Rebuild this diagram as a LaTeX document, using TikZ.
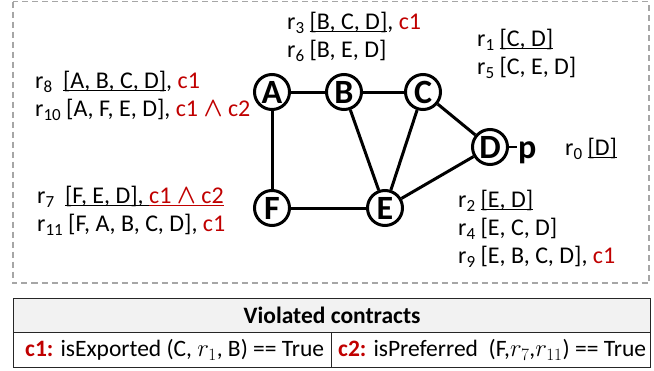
\documentclass[tikz,border=0pt]{standalone}
\usepackage{fontspec}
\setmainfont{Carlito}
\definecolor{cred}{HTML}{C00000}
\definecolor{hdrgray}{HTML}{F2F2F2}
\definecolor{dashgray}{HTML}{A6A6A6}
\newcommand{\andsym}{\scalebox{1}[1.1]{$\boldsymbol{\wedge}$}}
\usepackage{amsmath}
\newsavebox{\ulbox}
\newcommand{\ulx}[1]{\sbox{\ulbox}{#1}\rlap{\rule[-3.4pt]{\wd\ulbox}{1.4pt}}\usebox{\ulbox}}
\newcommand{\rr}[1]{r\raisebox{-4.5pt}{\fontsize{17}{17}\selectfont #1}}
\begin{document}
\begin{tikzpicture}[x=1pt,y=-1pt,
  vert/.style={circle, draw, line width=3pt, minimum size=35pt, inner sep=0pt,
    font=\fontsize{34}{34}\selectfont\bfseries},
  edge/.style={line width=3pt},
  lbl/.style={anchor=base west, inner sep=0pt, font=\fontsize{24}{28}\selectfont},
  cell/.style={draw=black!85, line width=1.2pt, anchor=north west, inner sep=0pt},
  celltxt/.style={inner sep=0pt, font=\fontsize{23.5}{28}\selectfont}
]
\useasboundingbox (0,0) rectangle (654,370);
% dashed frame
\draw[dashgray, line width=1.5pt, dash pattern=on 6pt off 4pt] (13,1.5) rectangle (649,283);

% vertices
\node[vert] (A) at (272,92) {A};
\node[vert] (B) at (344,92) {B};
\node[vert] (C) at (423,92) {C};
\node[vert] (D) at (490,147) {D};
\node[vert] (E) at (385,208) {E};
\node[vert] (F) at (272,208) {F};
\node[anchor=base west, inner sep=1pt, font=\fontsize{34}{34}\selectfont\bfseries] (p) at (517,158) {p};

% edges
\draw[edge] (A) -- (B);
\draw[edge] (B) -- (C);
\draw[edge] (A) -- (F);
\draw[edge] (F) -- (E);
\draw[edge] (B) -- (E);
\draw[edge] (C) -- (E);
\draw[edge] (C) -- (D);
\draw[edge] (E) -- (D);
\draw[line width=2.2pt] (D.east) -- (p.west |- D.east);

% route labels
\node[lbl] (r3) at (287,29) {\rr{3} \ulx{[B, C, D]}, \textcolor{cred}{c1}};
\node[lbl] (r6) at (287,57) {\rr{6} [B, E, D]};
\node[lbl] (r1) at (477,46) {\rr{1} \ulx{[C, D]}};
\node[lbl] (r5) at (477,74) {\rr{5} [C, E, D]};
\node[lbl] (r8) at (35,88) {\rr{8}\ \ \ulx{[A, B, C, D]}, \textcolor{cred}{c1}};
\node[lbl] (r10) at (35,116) {\rr{10} [A, F, E, D], \textcolor{cred}{c1 \andsym{} c2}};
\node[lbl] (r7) at (37,203) {\rr{7}\ \ \ulx{[F, E, D],\ }\textcolor{cred}{\ulx{c1 \andsym{} c2}}};
\node[lbl] (r11) at (37,231) {\rr{11} [F, A, B, C, D], \textcolor{cred}{c1}};
\node[lbl] (r0) at (565,155) {\rr{0} \ulx{[D]}};
\node[lbl] (r2) at (458,207) {\rr{2} \ulx{[E, D]}};
\node[lbl] (r4) at (458,235) {\rr{4} [E, C, D]};
\node[lbl] (r9) at (458,263) {\rr{9} [E, B, C, D], \textcolor{cred}{c1}};

% table
\node[cell, fill=hdrgray, minimum width=637pt, minimum height=34pt] (hdr) at (13,298) {};
\node[celltxt, font=\fontsize{23.5}{28}\selectfont\bfseries] (hdrtxt) at (hdr.center) {Violated contracts};
\node[cell, minimum width=318pt, minimum height=35pt] (c1cell) at (13,332) {};
\node[cell, minimum width=319pt, minimum height=35pt] (c2cell) at (331,332) {};
\node[celltxt, anchor=west] (c1txt) at ([xshift=12pt]c1cell.west) {\textbf{\textcolor{cred}{c1:}} isExported (C, $r_1$, B) == True};
\node[celltxt, anchor=west] (c2txt) at ([xshift=7pt]c2cell.west) {\textbf{\textcolor{cred}{c2:}} isPreferred\ \ (F,$r_7$,$r_{11}$) == True};
\end{tikzpicture}
\end{document}
